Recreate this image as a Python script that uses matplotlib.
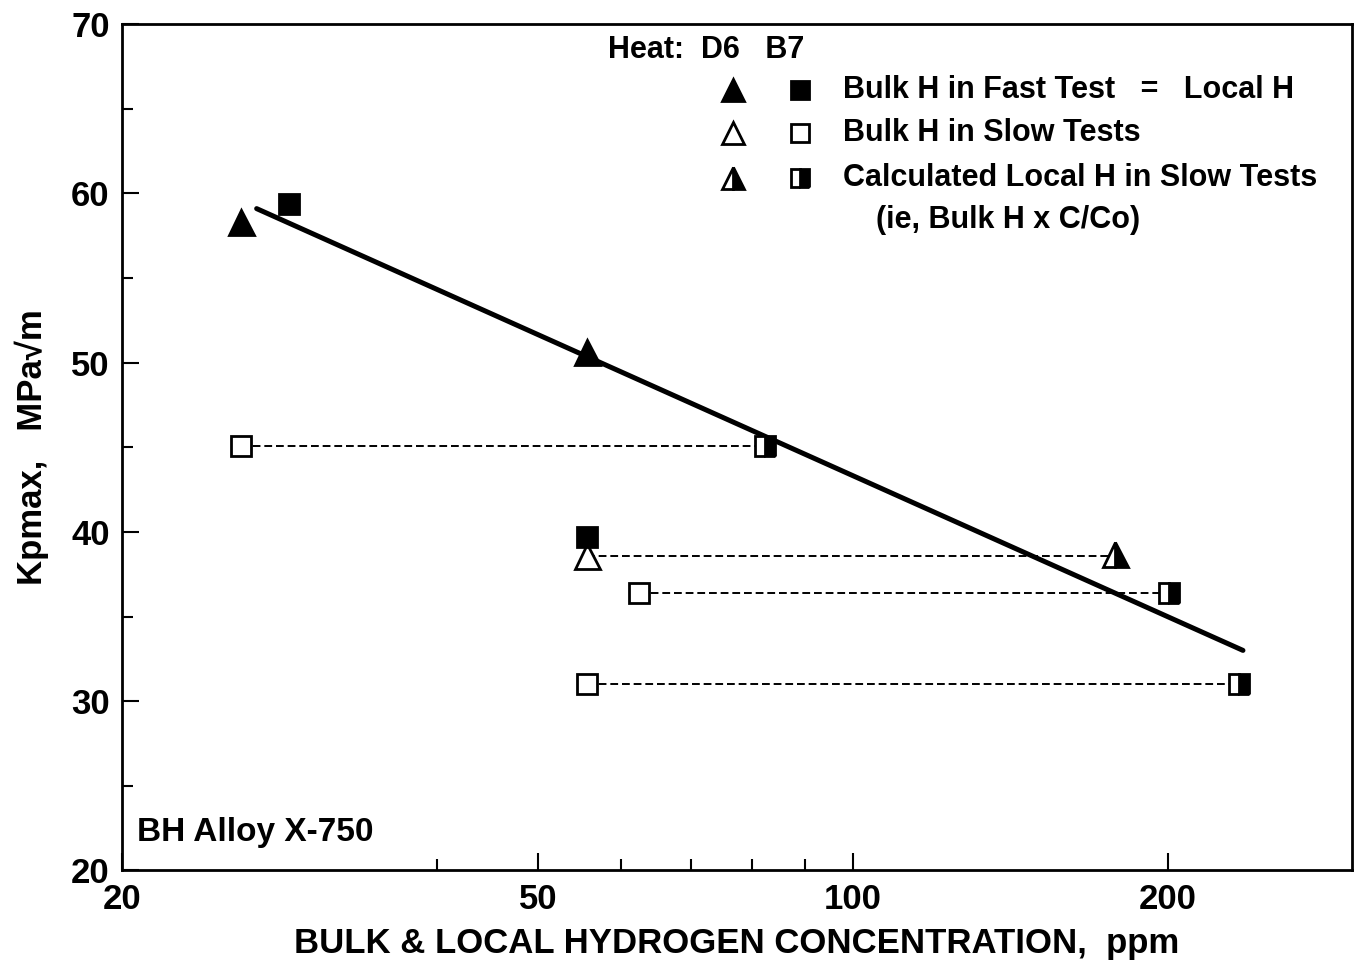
import matplotlib.pyplot as plt
import numpy as np
from matplotlib.ticker import FixedLocator, NullFormatter

plt.rcParams['font.family'] = ['Liberation Sans', 'DejaVu Sans']
plt.rcParams['font.weight'] = 'bold'
plt.rcParams['axes.labelweight'] = 'bold'

# heat D6 (triangles)
d6_fast_x = [26.0, 55.7]
d6_fast_y = [58.3, 50.6]
d6_slow_x = [55.7]
d6_slow_y = [38.6]
d6_local_x = [178.0]
d6_local_y = [38.7]

# heat B7 (squares)
b7_fast_x = [28.9, 55.7]
b7_fast_y = [59.4, 39.7]
b7_slow_x = [26.0, 62.4, 55.7]
b7_slow_y = [45.1, 36.4, 31.0]
b7_local_x = [82.4, 200.5, 234.0]
b7_local_y = [45.1, 36.4, 31.0]

# fitted line
fit_x = [26.9, 236.0]
fit_y = [59.1, 33.0]

xticks_major = [20, 50, 100, 200]
xticks_minor = [40, 60, 70, 80, 90]

fig = plt.figure(figsize=(13.56, 9.65), dpi=100)
ax = fig.add_axes([0.090, 0.098, 0.907, 0.877])

ax.plot(fit_x, fit_y, color='black', lw=3.6, solid_capstyle='round', zorder=2)

# dashed connectors between bulk and local values
for x0, x1, y in zip(d6_slow_x, d6_local_x, d6_slow_y):
    ax.plot([x0, x1], [y, y], color='black', lw=1.4, ls=(0, (4, 2)), zorder=1)
for x0, x1, y in zip(b7_slow_x, b7_local_x, b7_slow_y):
    ax.plot([x0, x1], [y, y], color='black', lw=1.4, ls=(0, (4, 2)), zorder=1)

tri = dict(marker='^', ms=18, ls='none', mec='black', mew=2, zorder=3)
sq = dict(marker='s', ms=15, ls='none', mec='black', mew=2, zorder=3)

ax.plot(d6_fast_x, d6_fast_y, mfc='black', **tri)
ax.plot(d6_slow_x, d6_slow_y, mfc='white', **tri)
ax.plot(d6_local_x, d6_local_y, mfc='black', fillstyle='right',
        markerfacecoloralt='white', **tri)
ax.plot(b7_fast_x, b7_fast_y, mfc='black', **sq)
ax.plot(b7_slow_x, b7_slow_y, mfc='white', **sq)
ax.plot(b7_local_x, b7_local_y, mfc='black', fillstyle='right',
        markerfacecoloralt='white', **sq)

ax.set_xscale('log')
ax.set_xlim(20, 300)
ax.set_ylim(20, 70)
ax.xaxis.set_major_locator(FixedLocator(xticks_major))
ax.xaxis.set_minor_locator(FixedLocator(xticks_minor))
ax.xaxis.set_minor_formatter(NullFormatter())
ax.set_xticklabels([str(v) for v in xticks_major])
ax.set_yticks(np.arange(20, 71, 10))
ax.set_yticks(np.arange(25, 70, 10), minor=True)
ax.tick_params(which='major', direction='in', length=12, width=1.5,
               labelsize=25, pad=9)
ax.tick_params(which='minor', direction='in', length=8, width=1.5)
for s in ax.spines.values():
    s.set_linewidth(2)

ax.set_xlabel('BULK & LOCAL HYDROGEN CONCENTRATION,  ppm', fontsize=25,
              labelpad=8)
ax.set_ylabel('Kpmax,   MPa\u221am', fontsize=25, labelpad=16)

ax.text(0.012, 0.035, 'BH Alloy X-750', transform=ax.transAxes, fontsize=24)

# legend
ax.text(0.395, 0.969, 'Heat:  D6   B7', transform=ax.transAxes, fontsize=22,
        va='center')
rows = [0.922, 0.871, 0.818]
labels = ['Bulk H in Fast Test   =   Local H', 'Bulk H in Slow Tests',
          'Calculated Local H in Slow Tests']
styles = [dict(mfc='black'), dict(mfc='white'),
          dict(mfc='black', fillstyle='right', markerfacecoloralt='white')]
for yy, lab, st in zip(rows, labels, styles):
    ax.plot([0.497], [yy], transform=ax.transAxes, clip_on=False,
            **{**tri, 'ms': 16}, **st)
    ax.plot([0.551], [yy], transform=ax.transAxes, clip_on=False,
            **{**sq, 'ms': 13}, **st)
    ax.text(0.586, yy, lab, transform=ax.transAxes, fontsize=22, va='center')
ax.text(0.613, 0.768, '(ie, Bulk H x C/Co)', transform=ax.transAxes,
        fontsize=22, va='center')

fig.savefig('out.png', dpi=100)
